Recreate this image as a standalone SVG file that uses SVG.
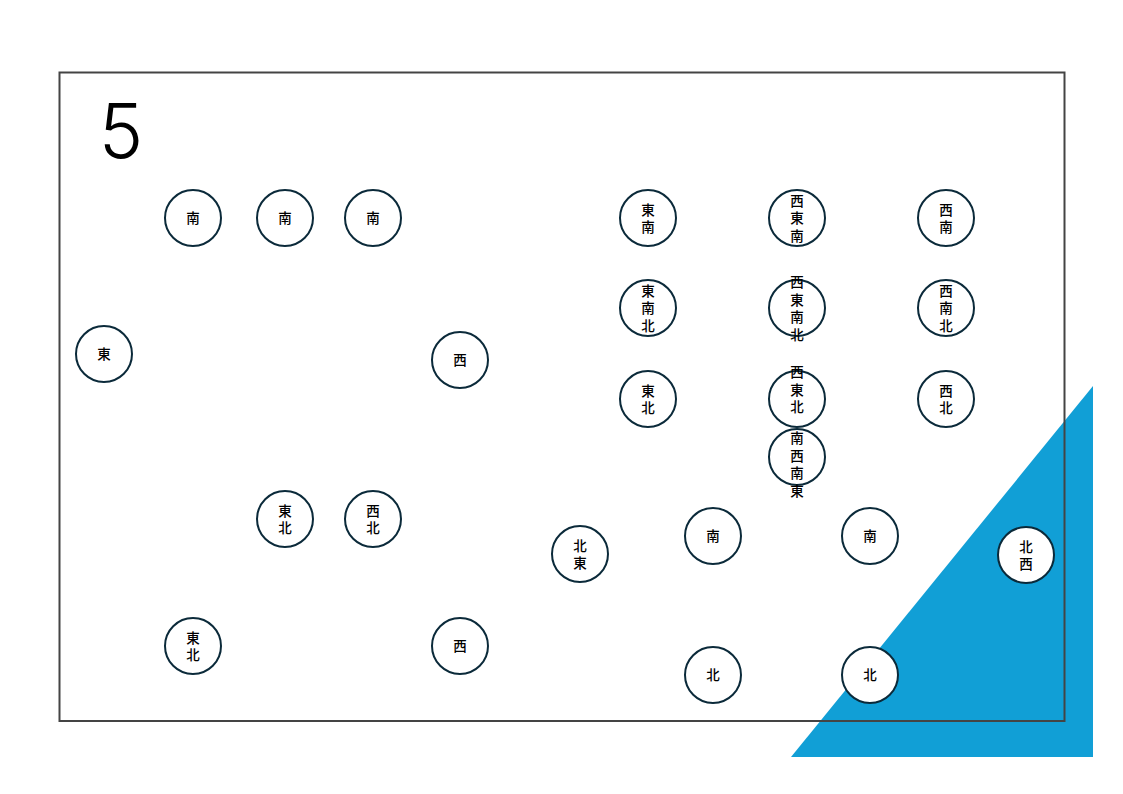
<svg xmlns="http://www.w3.org/2000/svg" width="1123" height="794" viewBox="0 0 1123 794">
<style>
.n circle{fill:#fff;stroke:#0b2a3a;stroke-width:2}
.n text{font-family:"Noto Sans CJK JP","Noto Sans CJK SC",sans-serif;font-size:13.5px;font-weight:500;fill:#000;text-anchor:middle;dominant-baseline:central}
.num{font-family:Inter,"Noto Sans","Liberation Sans",sans-serif;font-weight:300;font-size:75px;fill:#000}
</style>
<rect width="1123" height="794" fill="#fff"/>
<polygon points="791,757 1093,386 1093,757" fill="#119fd6"/>
<rect x="59.5" y="72.5" width="1005" height="648.5" fill="none" stroke="#444" stroke-width="2"/>
<text class="num" x="121" y="158" text-anchor="middle">5</text>
<g id="connectors"></g>
<g id="n1" class="n"><circle cx="193" cy="218" r="28"/><text x="193" y="217">南</text></g>
<g id="n2" class="n"><circle cx="285" cy="218" r="28"/><text x="285" y="217">南</text></g>
<g id="n3" class="n"><circle cx="373" cy="218" r="28"/><text x="373" y="217">南</text></g>
<g id="n4" class="n"><circle cx="104" cy="354" r="28"/><text x="104" y="353">東</text></g>
<g id="n5" class="n"><circle cx="460" cy="360" r="28"/><text x="460" y="359">西</text></g>
<g id="n6" class="n"><circle cx="285" cy="519" r="28"/><text x="285" y="509.5">東<tspan x="285" dy="17">北</tspan></text></g>
<g id="n7" class="n"><circle cx="373" cy="519" r="28"/><text x="373" y="509.5">西<tspan x="373" dy="17">北</tspan></text></g>
<g id="n8" class="n"><circle cx="193" cy="646" r="28"/><text x="193" y="636.5">東<tspan x="193" dy="17">北</tspan></text></g>
<g id="n9" class="n"><circle cx="460" cy="646" r="28"/><text x="460" y="645">西</text></g>
<g id="n10" class="n"><circle cx="580" cy="554" r="28"/><text x="580" y="544.5">北<tspan x="580" dy="17">東</tspan></text></g>
<g id="n11" class="n"><circle cx="713" cy="536" r="28"/><text x="713" y="535">南</text></g>
<g id="n12" class="n"><circle cx="870" cy="536" r="28"/><text x="870" y="535">南</text></g>
<g id="n13" class="n"><circle cx="713" cy="675" r="28"/><text x="713" y="674">北</text></g>
<g id="n14" class="n"><circle cx="870" cy="675" r="28"/><text x="870" y="674">北</text></g>
<g id="n15" class="n"><circle cx="1026" cy="555" r="28"/><text x="1026" y="545.5">北<tspan x="1026" dy="17">西</tspan></text></g>
<g id="n16" class="n"><circle cx="648" cy="218" r="28"/><text x="648" y="208.5">東<tspan x="648" dy="17">南</tspan></text></g>
<g id="n17" class="n"><circle cx="797" cy="218" r="28"/><text x="797" y="199.5">西<tspan x="797" dy="17.5">東</tspan><tspan x="797" dy="17.5">南</tspan></text></g>
<g id="n18" class="n"><circle cx="946" cy="218" r="28"/><text x="946" y="208.5">西<tspan x="946" dy="17">南</tspan></text></g>
<g id="n19" class="n"><circle cx="648" cy="308" r="28"/><text x="648" y="289.5">東<tspan x="648" dy="17.5">南</tspan><tspan x="648" dy="17.5">北</tspan></text></g>
<g id="n20" class="n"><circle cx="797" cy="308" r="28"/><text x="797" y="281">西<tspan x="797" dy="17.5">東</tspan><tspan x="797" dy="17.5">南</tspan><tspan x="797" dy="17.5">北</tspan></text></g>
<g id="n21" class="n"><circle cx="946" cy="308" r="28"/><text x="946" y="289.5">西<tspan x="946" dy="17.5">南</tspan><tspan x="946" dy="17.5">北</tspan></text></g>
<g id="n22" class="n"><circle cx="648" cy="399" r="28"/><text x="648" y="389.5">東<tspan x="648" dy="17">北</tspan></text></g>
<g id="n23" class="n"><circle cx="797" cy="399" r="28"/><text x="797" y="371">西<tspan x="797" dy="17.5">東</tspan><tspan x="797" dy="17.5">北</tspan></text></g>
<g id="n24" class="n"><circle cx="946" cy="399" r="28"/><text x="946" y="389.5">西<tspan x="946" dy="17">北</tspan></text></g>
<g id="n25" class="n"><circle cx="797" cy="457" r="28"/><text x="797" y="437">南<tspan x="797" dy="17.5">西</tspan><tspan x="797" dy="17.5">南</tspan><tspan x="797" dy="17.5">東</tspan></text></g>
</svg>
